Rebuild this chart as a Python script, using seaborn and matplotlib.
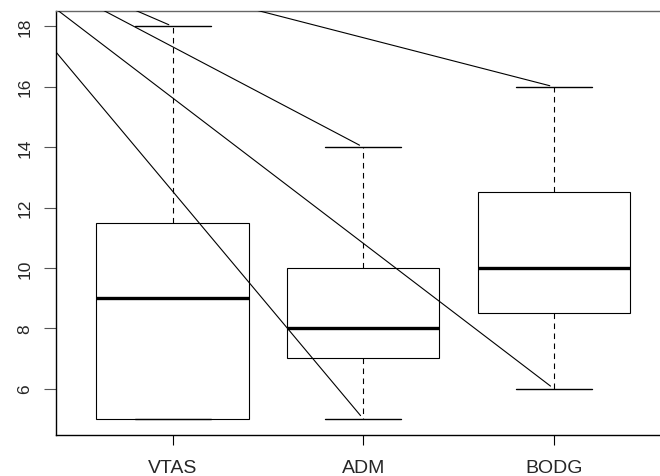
import numpy as np
import pandas as pd
import matplotlib
matplotlib.use("Agg")
import matplotlib.pyplot as plt
import seaborn as sns

# Groups and their five-number summaries (min, lower hinge, median, upper hinge, max)
categories = ["VTAS", "ADM", "BODG"]
mins = [5.0, 5.0, 6.0]
lower_hinges = [5.0, 7.0, 8.5]
medians = [9.0, 8.0, 10.0]
upper_hinges = [11.5, 10.0, 12.5]
maxs = [18.0, 14.0, 16.0]

# Connector lines: a shared starting point and the whisker ends they run to
line_origin = (-0.136, 21.1)          # (group position, value), 1-based positions
line_targets = ["ADM", "BODG", "ADM", "VTAS", "BODG"]
line_values = [5.0, 6.0, 14.0, 18.0, 16.0]

y_ticks = [6, 8, 10, 12, 14, 16, 18]

# Five observations per group reproduce the summaries exactly
rows = []
for cat, a, b, c, d, e in zip(categories, mins, lower_hinges, medians, upper_hinges, maxs):
    for v in (a, b, c, d, e):
        rows.append({"group": cat, "value": v})
df = pd.DataFrame(rows)

sns.set_theme(style="white")
plt.rcParams["font.family"] = ["Liberation Sans", "DejaVu Sans"]

fig = plt.figure(figsize=(6.6, 4.77), dpi=100)
ax = fig.add_axes([56 / 660, (477 - 435.5) / 477, (672 - 56) / 660, (435.5 - 11.7) / 477])

sns.boxplot(
    data=df, x="group", y="value", order=categories, ax=ax,
    color="white", linecolor="black", linewidth=0.8, width=0.8,
    whis=1.5, fliersize=0, saturation=1,
    medianprops=dict(linewidth=2.4, color="black", solid_capstyle="butt"),
    whiskerprops=dict(linestyle=(0, (5, 4)), linewidth=0.8, color="black"),
    capprops=dict(linewidth=1.0, color="black"),
    boxprops=dict(edgecolor="black", facecolor="white", linewidth=0.8),
)

ax.set_xlim(-0.612, 2.62)
ax.set_ylim(4.48, 18.52)

# Connector lines drawn on top of the boxes, clipped to the plotting region
ox, oy = line_origin
for cat, val in zip(line_targets, line_values):
    xi = categories.index(cat)
    ann = ax.annotate(
        "", xy=(xi, val), xytext=(ox - 1, oy),
        arrowprops=dict(arrowstyle="-", color="black", lw=0.8, shrinkA=0, shrinkB=3),
        annotation_clip=False,
    )
    ann.arrow_patch.set_clip_path(ax.patch)
    ann.arrow_patch.set_zorder(5)

ax.set_xlabel("")
ax.set_ylabel("")
ax.set_yticks(y_ticks)
ax.set_yticklabels([str(t) for t in y_ticks], rotation=90, va="center")
ax.set_xticks(range(len(categories)))
ax.set_xticklabels(categories)

for side in ("left", "bottom"):
    ax.spines[side].set_color("black")
    ax.spines[side].set_linewidth(1.0)
ax.spines["top"].set_color("#666666")
ax.spines["top"].set_linewidth(1.0)
ax.spines["right"].set_visible(False)

ax.tick_params(axis="y", direction="out", length=9, width=0.8, color="#555555",
               labelsize=12.5, pad=8, left=True)
ax.tick_params(axis="x", direction="out", length=7.5, width=0.8, color="black",
               labelsize=14, pad=10, bottom=True)

fig.savefig("out.png", dpi=100)
